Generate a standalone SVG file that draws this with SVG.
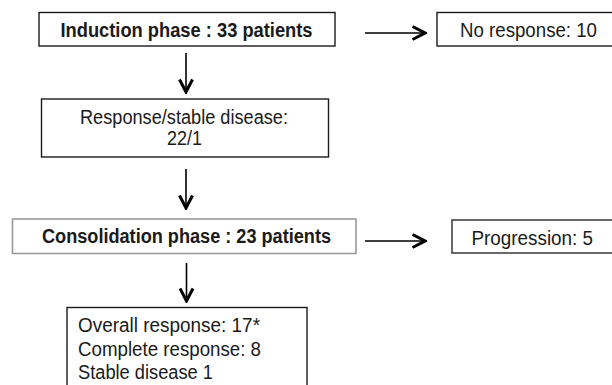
<svg xmlns="http://www.w3.org/2000/svg" width="612" height="385" viewBox="0 0 612 385">
  <style>
    .box { fill: #ffffff; stroke: #1a1a1a; stroke-width: 1.4; }
    .grey { stroke: #999999; stroke-width: 1.6; }
    .dark { stroke: #444444; stroke-width: 1.6; }
    .t { font-family: "Liberation Sans", Arial, sans-serif; font-size: 20px; fill: #1a1a1a; }
    .b { font-weight: bold; }
    .conn { stroke: #000000; stroke-width: 1.6; fill: none; }
  </style>
  <defs>
    <marker id="arr" viewBox="0 0 16 16" refX="14" refY="8" markerWidth="16" markerHeight="16" orient="auto" markerUnits="userSpaceOnUse">
      <path d="M1.5,1.5 L14,8 L1.5,14.5" fill="none" stroke="#000000" stroke-width="3" stroke-linejoin="miter"/>
    </marker>
  </defs>
  <rect width="612" height="385" fill="#ffffff"/>

  <g id="connectors">
    <line class="conn" x1="365" y1="33" x2="425" y2="33" marker-end="url(#arr)"/>
    <line class="conn" x1="186" y1="53" x2="186" y2="92" marker-end="url(#arr)"/>
    <line class="conn" x1="186" y1="169" x2="186" y2="208" marker-end="url(#arr)"/>
    <line class="conn" x1="365" y1="241" x2="425" y2="241" marker-end="url(#arr)"/>
    <line class="conn" x1="186.5" y1="263" x2="186.5" y2="301" marker-end="url(#arr)"/>
  </g>

  <g id="induction">
    <rect class="box" x="39" y="12.5" width="296" height="33.5"/>
    <text class="t b" x="60.5" y="36.7" textLength="252" lengthAdjust="spacingAndGlyphs">Induction phase : 33 patients</text>
  </g>

  <g id="no-response">
    <rect class="box" x="437" y="12.5" width="184" height="33.5"/>
    <text class="t" x="460" y="37" textLength="137" lengthAdjust="spacingAndGlyphs">No response: 10</text>
  </g>

  <g id="response-stable">
    <rect class="box" x="41.5" y="99" width="287" height="58"/>
    <text class="t" x="80" y="124" textLength="208" lengthAdjust="spacingAndGlyphs">Response/stable disease:</text>
    <text class="t" x="167" y="145" textLength="35" lengthAdjust="spacingAndGlyphs">22/1</text>
  </g>

  <g id="consolidation">
    <rect class="box grey" x="12.5" y="219" width="343.5" height="34.5"/>
    <text class="t b" x="42" y="242.5" textLength="289" lengthAdjust="spacingAndGlyphs">Consolidation phase : 23 patients</text>
  </g>

  <g id="progression">
    <rect class="box dark" x="452" y="220" width="165" height="33"/>
    <text class="t" x="471.5" y="244.5" textLength="121.5" lengthAdjust="spacingAndGlyphs">Progression: 5</text>
  </g>

  <g id="outcome">
    <rect class="box" x="67" y="307.5" width="240" height="82"/>
    <text class="t" x="78" y="332" textLength="182" lengthAdjust="spacingAndGlyphs">Overall response: 17*</text>
    <text class="t" x="78" y="355.5" textLength="183" lengthAdjust="spacingAndGlyphs">Complete response: 8</text>
    <text class="t" x="78" y="379" textLength="135" lengthAdjust="spacingAndGlyphs">Stable disease 1</text>
  </g>
</svg>
